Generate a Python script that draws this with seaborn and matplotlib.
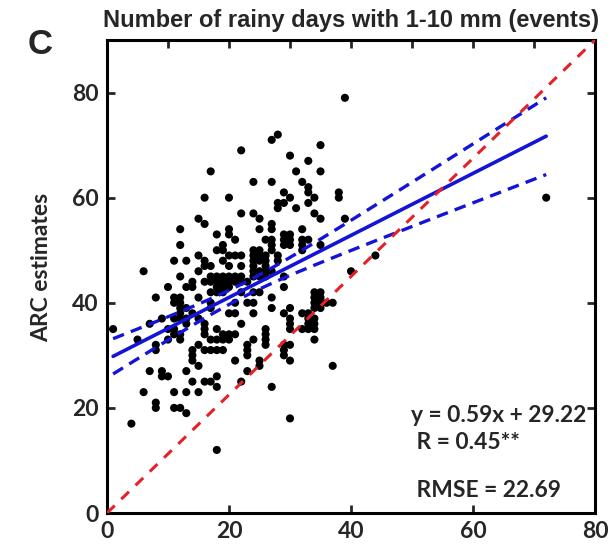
import numpy as np
import pandas as pd
import matplotlib
matplotlib.use("Agg")
import matplotlib.pyplot as plt
import seaborn as sns

# ---- data ----
x_obs = [17, 16, 20, 15, 16, 12, 12, 18, 20, 20, 19, 18,
         28, 27, 22, 35, 30, 33, 31, 35, 24, 27, 32, 33, 33, 38, 38, 29, 30, 34,
         28, 28, 29, 31, 33, 22, 24, 25, 34, 35, 39, 25, 27, 27, 32, 21, 26, 27,
         27, 29, 29, 30, 30, 32, 33, 24, 25, 27, 29, 30, 32, 35,
         32, 20, 21, 22, 24, 25, 20, 28, 28, 26, 26, 26, 24, 25, 26, 27, 24, 25,
         26, 29, 29, 22, 24, 25, 27, 21, 23, 24, 20, 21, 24, 27, 29, 30, 30, 32,
         34, 35, 34, 35, 34, 35, 36, 37, 34, 35, 33, 34, 33, 33, 32, 33, 34, 34,
         30, 30, 40, 22, 19, 20, 21, 20, 24, 26, 26, 26, 26, 23, 23, 23, 29, 29,
         29, 30, 30, 21, 25, 37, 34,
         20, 21, 22, 20, 21, 22, 23, 20, 22, 24, 24, 25,
         19, 15, 11, 13, 16, 19, 16, 17, 6, 15, 12, 17, 18, 19, 14, 16, 17, 18,
         19, 10, 13, 14, 18, 19, 17, 18, 19, 8, 11, 12, 15, 11, 12, 17, 12, 13,
         17, 12, 14, 9, 11, 12, 13, 15, 7, 13, 16, 1, 10, 11, 16, 18, 11, 12,
         16, 5, 10, 12, 17, 18, 19, 8, 15, 8, 14, 16, 17, 18, 19, 14, 14, 15,
         7, 9, 9, 10, 13, 14, 16, 17, 18, 18, 6, 11, 13, 15, 8, 8, 11, 12, 13,
         4, 18,
         25, 23, 22, 27, 30,
         44, 72, 39]
y_arc = [65, 60, 60, 56, 55, 54, 51, 53, 54, 53, 51, 50,
         72, 71, 69, 70, 68, 67, 65, 65, 63, 63, 63, 62, 61, 61, 60, 61, 60, 60,
         59, 58, 59, 58, 59, 57, 57, 56, 57, 56, 56, 54, 55, 54, 54, 52, 52, 52,
         51, 53, 52, 53, 52, 52, 52, 50, 50, 50, 51, 51, 51, 51,
         50, 49, 49, 49, 49, 49, 47, 49, 48, 49, 48, 47, 46, 46, 46, 46, 45, 45,
         45, 45, 43, 42, 42, 42, 41, 40, 40, 40, 38, 38, 38, 39, 38, 39, 37, 38,
         42, 42, 41, 41, 40, 40, 40, 40, 39, 39, 38, 37, 37, 36, 35, 35, 35, 33,
         36, 35, 46, 36, 34, 34, 34, 33, 33, 35, 34, 33, 32, 32, 31, 30, 32, 31,
         30, 32, 29, 29, 29, 28, 36,
         45, 45, 45, 44, 44, 44, 44, 43, 47, 47, 48, 48,
         50, 49, 48, 48, 48, 48, 47, 47, 46, 46, 45, 45, 45, 45, 44, 44, 44, 44,
         44, 43, 43, 43, 43, 43, 42, 42, 42, 41, 41, 41, 41, 40, 40, 40, 39, 39,
         39, 38, 38, 37, 37, 37, 37, 37, 36, 36, 36, 35, 35, 35, 35, 35, 34, 34,
         34, 33, 33, 33, 33, 33, 33, 32, 32, 31, 31, 31, 31, 31, 31, 30, 29, 28,
         27, 27, 26, 26, 27, 25, 25, 25, 26, 24, 23, 23, 23, 23, 21, 20, 20, 20, 19,
         17, 12,
         28, 27, 25, 24, 18,
         49, 60, 79]

slope = 0.59
intercept = 29.22
stat_lines = ["y = 0.59x + 29.22", " R = 0.45**", " RMSE = 22.69"]
title_text = "Number of rainy days with 1-10 mm (events)"
panel_label = "C"
y_label = "ARC estimates"
x_ticks = [0, 20, 40, 60, 80]
x_minor = [10, 30, 50, 70]
y_ticks = [0, 20, 40, 60, 80]

# ---- style ----
sns.set_style("ticks")
plt.rcParams["font.family"] = ["Lato", "DejaVu Sans"]

fig = plt.figure(figsize=(6.16, 5.49), dpi=100)
ax = fig.add_axes([107 / 616, 36 / 549, (595 - 107) / 616, (513 - 40) / 549])

df = pd.DataFrame({"obs": x_obs, "arc": y_arc})
sns.scatterplot(data=df, x="obs", y="arc", color="black", s=34,
                edgecolor="none", ax=ax, zorder=3, legend=False)

# regression line and confidence band around the reported fit
x = np.asarray(x_obs, float)
y = np.asarray(y_arc, float)
n = len(x)
xs = np.linspace(x.min(), x.max(), 200)
yhat = slope * xs + intercept
resid = y - (slope * x + intercept)
s_err = np.sqrt(np.sum(resid ** 2) / (n - 2))
sxx = np.sum((x - x.mean()) ** 2)
hw = 1.96 * s_err * np.sqrt(1 / n + (xs - x.mean()) ** 2 / sxx)

blue = "#1414d8"
sns.lineplot(x=xs, y=yhat, color=blue, lw=2.6, ax=ax, zorder=4)
ax.plot(xs, yhat + hw, color=blue, lw=2.4, ls=(0, (3.5, 2.2)), zorder=4)
ax.plot(xs, yhat - hw, color=blue, lw=2.4, ls=(0, (3.5, 2.2)), zorder=4)

# diagonal reference line (corner to corner)
ax.plot([0, 1], [0, 1], transform=ax.transAxes, color="#e32228", lw=2.2,
        ls=(0, (3.5, 3)), zorder=5)

ax.set_xlim(0, 80)
ax.set_ylim(0, 90)
ax.set_xticks(x_ticks)
ax.set_xticks(x_minor, minor=True)
ax.set_yticks(y_ticks)
ax.set_xlabel("")
ax.set_ylabel(y_label, fontsize=16.5, fontweight="bold")
ax.yaxis.set_label_coords(-0.113, 0.52)

for sp in ax.spines.values():
    sp.set_visible(True)
    sp.set_linewidth(2.2)
    sp.set_color("black")

ax.tick_params(axis="both", which="major", direction="in", length=6, width=2,
               top=True, right=True, labelsize=16.5, pad=6)
ax.tick_params(axis="x", which="minor", direction="in", length=6, width=2,
               top=True, bottom=False)
for lab in ax.get_xticklabels() + ax.get_yticklabels():
    lab.set_fontweight("bold")

ax.set_title(title_text, fontsize=17, pad=9, fontweight="bold",
             family=["Liberation Sans Narrow", "Liberation Sans", "DejaVu Sans"])
fig.text(40 / 616, 1 - 45 / 549, panel_label, fontsize=25, ha="center", va="center",
         fontweight="bold", family=["Liberation Sans", "DejaVu Sans"])

ax.text(49.8, 17.4, stat_lines[0], fontsize=16.4, fontweight="bold", zorder=6)
ax.text(49.8, 12.2, stat_lines[1], fontsize=16.4, fontweight="bold", zorder=6)
ax.text(49.8, 3.0, stat_lines[2], fontsize=16.4, fontweight="bold", zorder=6)

fig.savefig("out.png", dpi=100)
